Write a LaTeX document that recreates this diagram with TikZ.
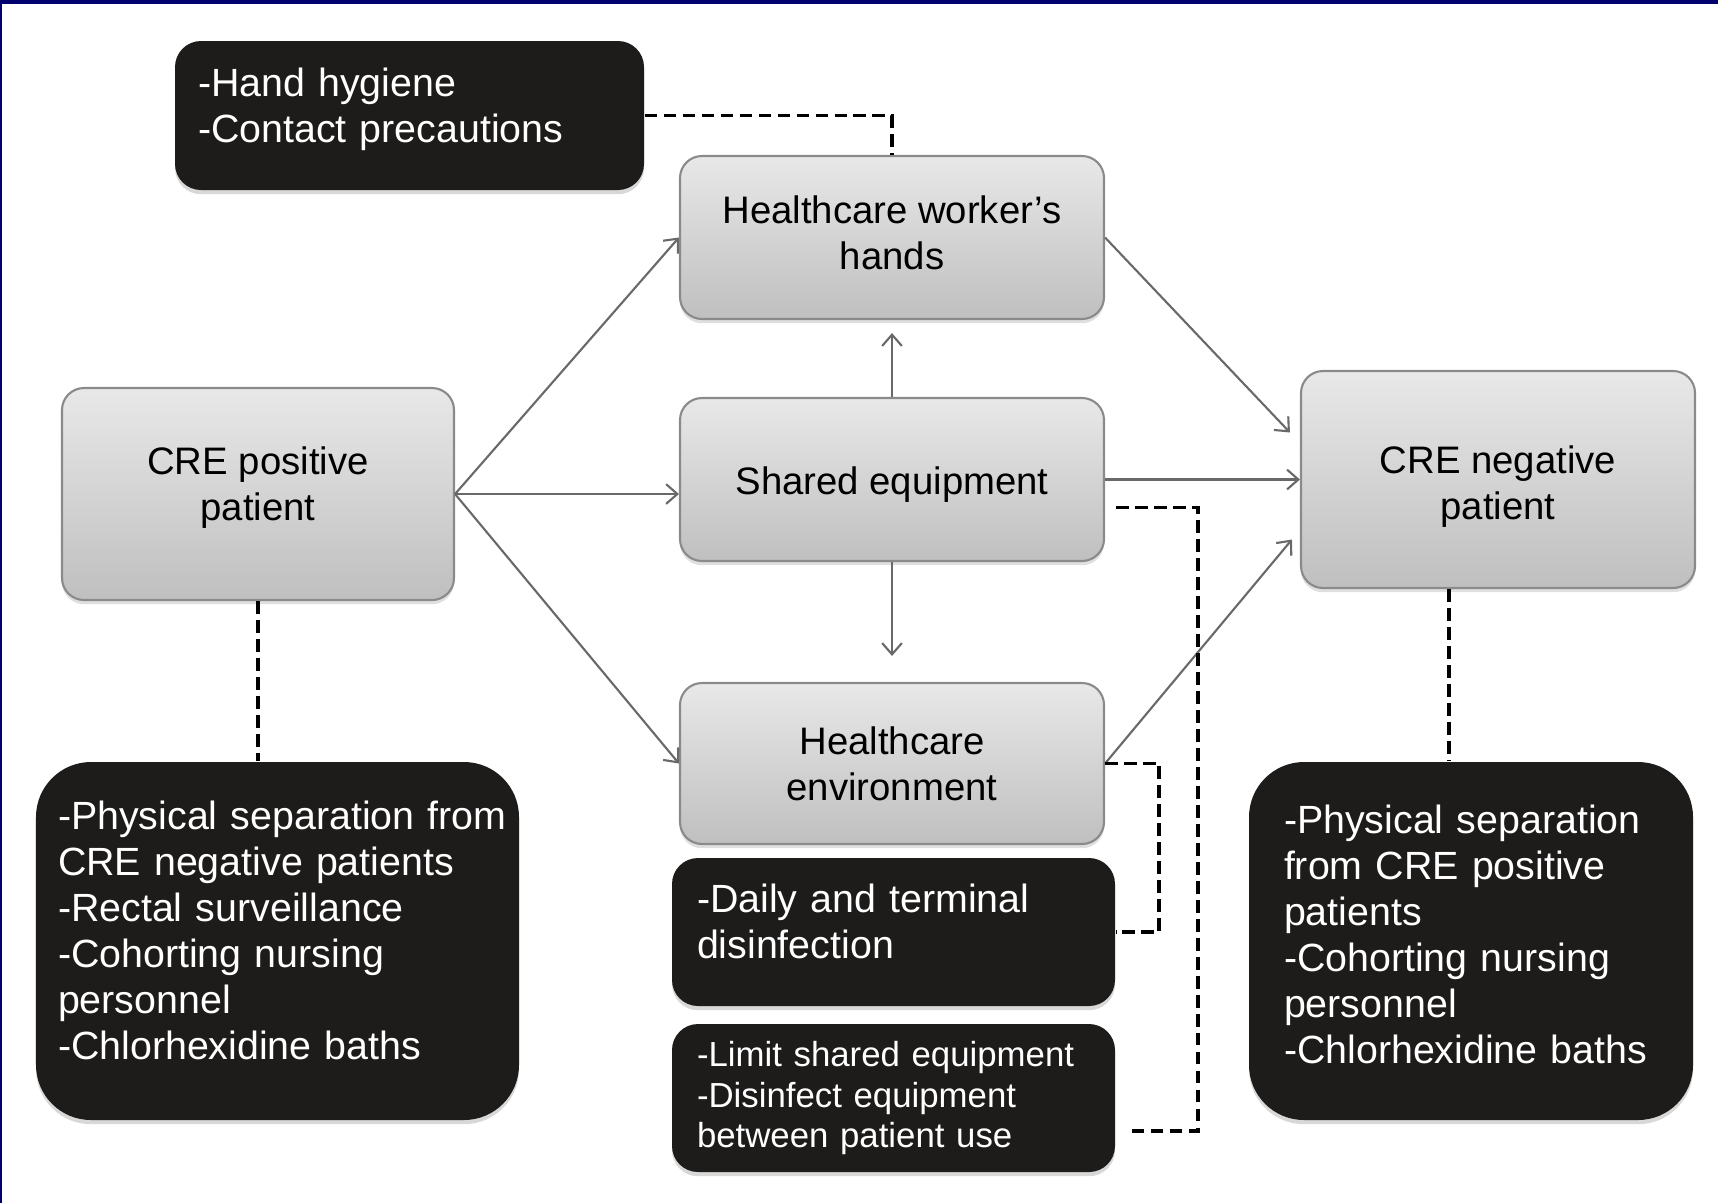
\documentclass[tikz,border=0pt]{standalone}
\usepackage{fontspec}
\setmainfont{Liberation Sans}
\usetikzlibrary{arrows.meta,shadows}

\definecolor{framenavy}{RGB}{0,0,110}
\definecolor{rimgray}{RGB}{138,138,138}
\definecolor{arrowgray}{RGB}{105,105,105}
\definecolor{boxblack}{RGB}{30,28,27}

\begin{document}
\begin{tikzpicture}[
  x=1cm,y=1cm,
  route/.style={draw=rimgray, line width=0.6pt, rounded corners=2.2mm, top color=gray!18, middle color=gray!30, bottom color=gray!50,
    minimum width=4.24cm, minimum height=1.63cm, align=center, font=\fontsize{10.9}{13.1}\selectfont,
    drop shadow={shadow xshift=0pt, shadow yshift=-1.2pt, opacity=0.25}},
  measure/.style={fill=boxblack, text=white, rounded corners=2.6mm, align=left, inner ysep=0pt,
    font=\fontsize{11.2}{13.1}\selectfont, drop shadow={shadow xshift=0pt, shadow yshift=-1.2pt, opacity=0.3}},
  arr/.style={-{Straight Barb[length=3.2pt,width=5.6pt]}, draw=arrowgray, line width=0.6pt},
  link/.style={draw=black, line width=1.1pt, dash pattern=on 3.6pt off 1.8pt}
]
\path[fill=white] (0,0) rectangle (17.18,-12.03);
\useasboundingbox (0,0) rectangle (17.18,-12.03);
\fill[framenavy] (0,0) rectangle (17.18,-0.035);
\fill[framenavy] (0,0) rectangle (0.025,-12.03);

\node[route, text depth=0.10cm] (hands) at (8.92,-2.375) {Healthcare worker’s\\hands};
\node[route, text height=0.38cm] (shared) at (8.92,-4.795) {Shared equipment};
\node[route, minimum height=1.61cm] (env) at (8.92,-7.635) {Healthcare\\environment};
\node[route, minimum width=3.92cm, minimum height=2.12cm, text depth=0.20cm] (pos) at (2.58,-4.94) {CRE positive\\patient};
\node[route, minimum width=3.94cm, minimum height=2.17cm, text height=0.88cm] (neg) at (14.98,-4.795) {CRE negative\\patient};

% text depth below = lines under the first one, plus some room at the bottom
\node[measure, inner xsep=2.3mm, text width=4.23cm, minimum height=1.49cm, text depth=0.67cm] (hyg) at (4.095,-1.155)
  {-Hand hygiene\\-Contact precautions};
\node[measure, rounded corners=5.5mm, inner xsep=2.2mm, text width=4.39cm, minimum height=3.58cm, text depth=2.52cm] (posctl) at (2.775,-9.41)
  {\mbox{-Physical separation from}\\CRE negative patients\\-Rectal surveillance\\-Cohorting nursing\\personnel\\-Chlorhexidine baths};
\node[measure, rounded corners=5.5mm, inner xsep=3.5mm, text width=3.74cm, minimum height=3.58cm, text depth=2.43cm] (negctl) at (14.71,-9.41)
  {-Physical separation\\from CRE positive\\patients\\-Cohorting nursing\\personnel\\-Chlorhexidine baths};
\node[measure, inner xsep=2.5mm, text width=3.93cm, minimum height=1.48cm, text depth=0.68cm] (daily) at (8.935,-9.32)
  {-Daily and terminal\\disinfection};
\node[measure, inner xsep=2.5mm, text width=3.93cm, minimum height=1.48cm, font=\fontsize{9.9}{11.4}\selectfont] (limit) at (8.935,-10.98)
  {-Limit shared equipment\\-Disinfect equipment\\between patient use};

\draw[arr] (pos.east) -- (hands.west);
\draw[arr] (pos.east) -- (pos.east -| shared.west);
\draw[arr] (pos.east) -- (env.west);
\draw[arr] (hands.east) -- ([xshift=-1mm,yshift=4.7mm]neg.west);
\draw[arr] (shared.east) -- (neg.west);
\draw[arr] (env.east) -- ([xshift=-0.8mm,yshift=-6mm]neg.west);
\draw[arr] (shared.north) -- ([yshift=-1.3mm]hands.south);
\draw[arr] (shared.south) -- ([yshift=2.6mm]env.north);

\coordinate (negdrop) at ([xshift=-4.9mm]neg.south);
\draw[link] (hyg.east) -| (hands.north);
\draw[link] ([xshift=1.1mm,yshift=-2.8mm]shared.east) -- ++(0.82,0) |- ([xshift=1.4mm,yshift=-3.3mm]limit.east);
\draw[link] (env.east) -- ++(0.54,0) |- (daily.east);
\draw[link] (pos.south) -- (pos.south |- posctl.north);
\draw[link] (negdrop) -- (negdrop |- negctl.north);
\end{tikzpicture}
\end{document}
